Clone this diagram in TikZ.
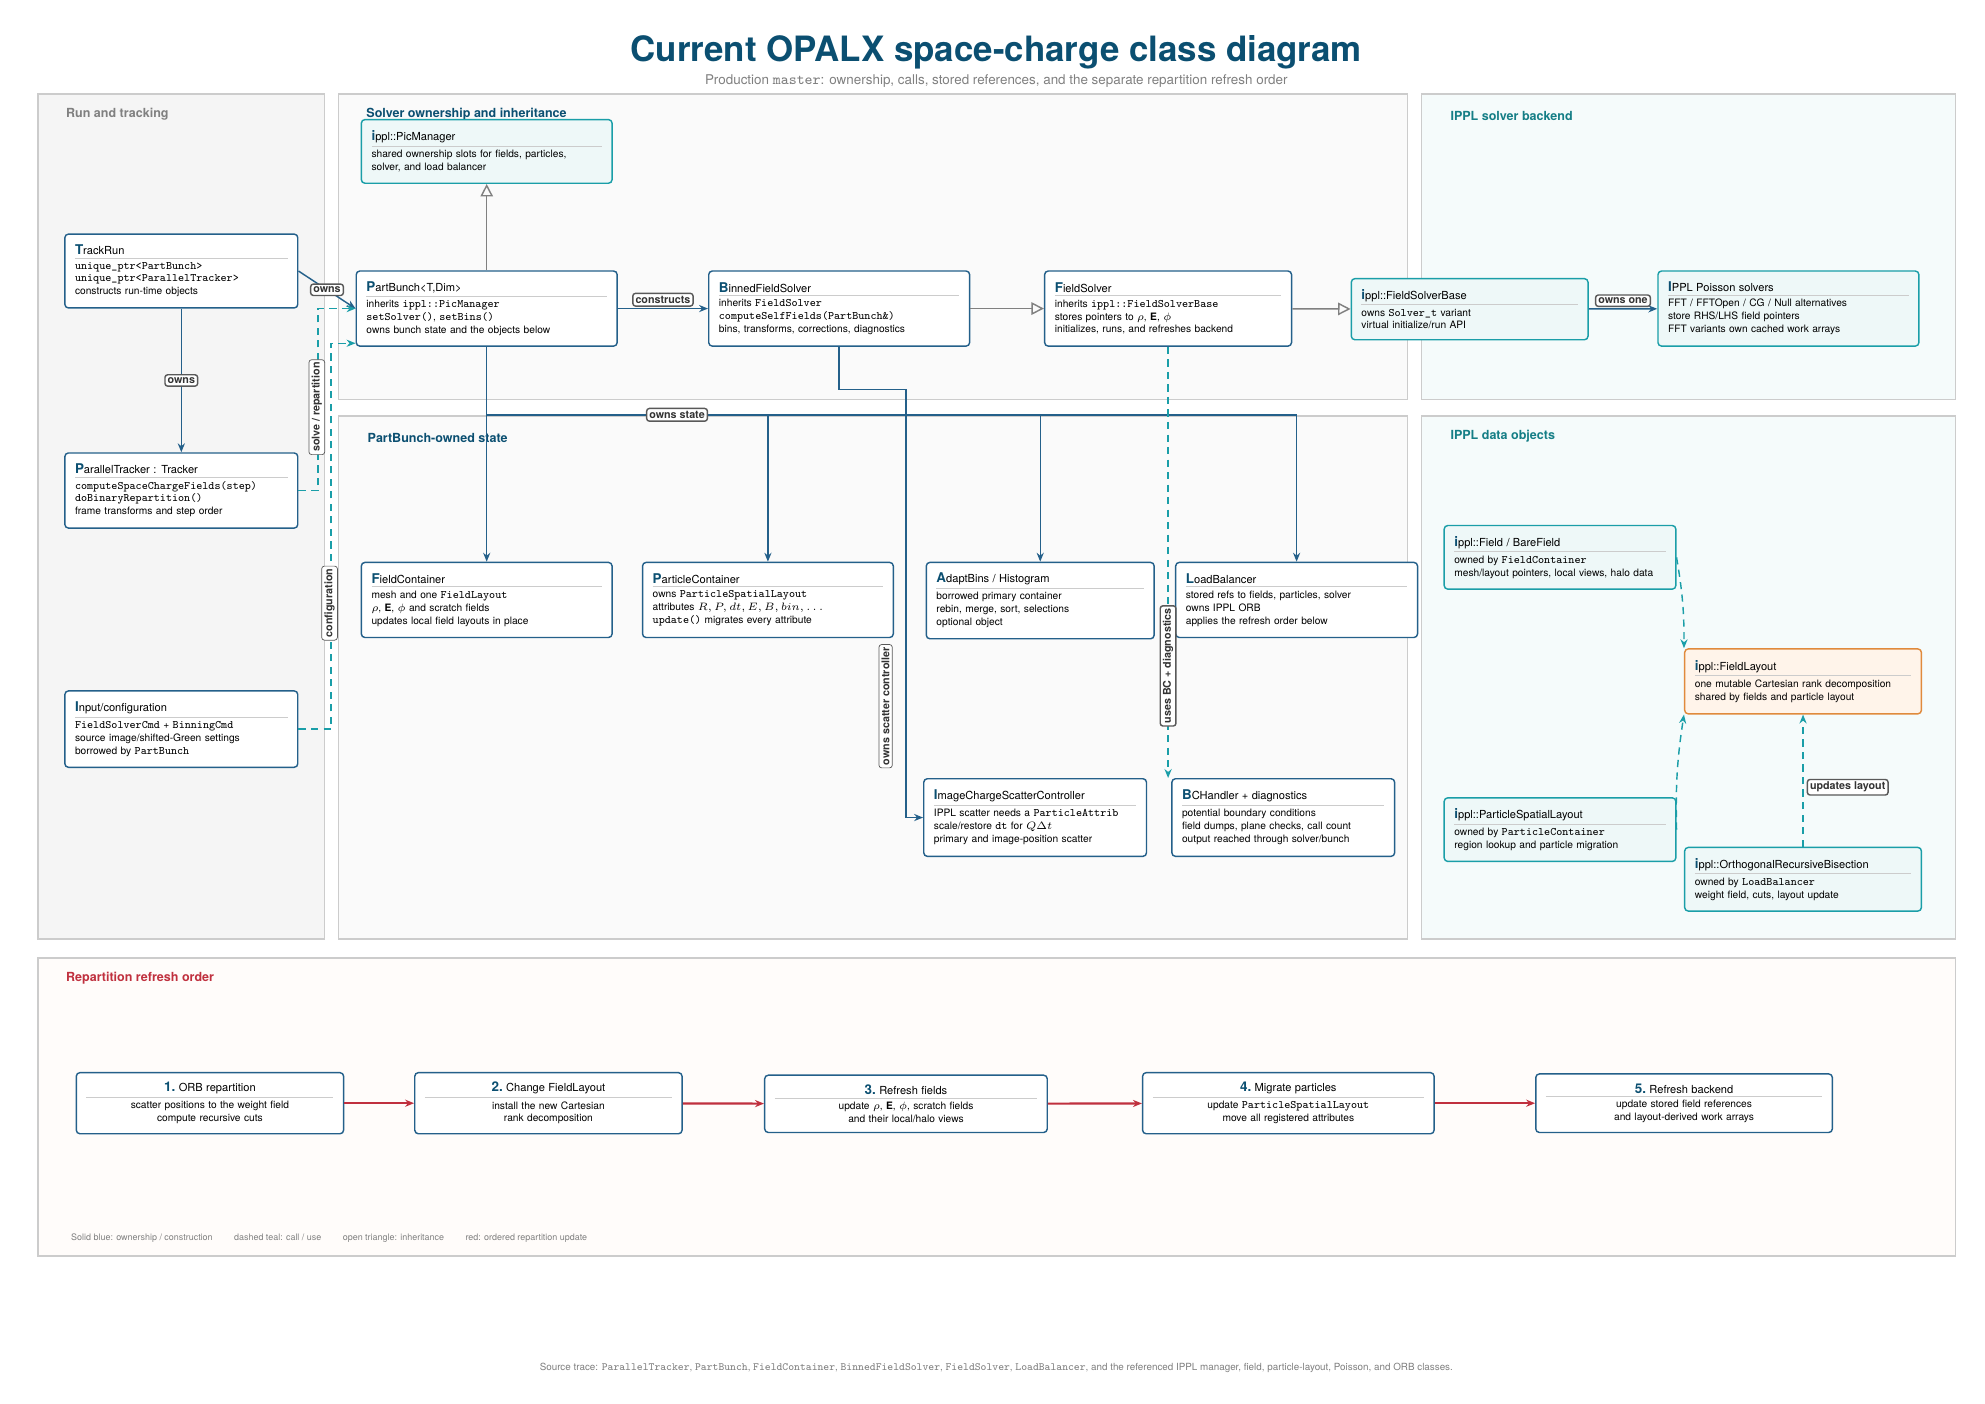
\documentclass[tikz,border=0pt]{standalone}
\usepackage{amsmath}
\usepackage{amssymb}
\usepackage{fontspec}
\setmainfont{TeX Gyre Heros}
\setmonofont{Latin Modern Mono}[Scale=1.12]
\usepackage{tikz}
\usetikzlibrary{arrows.meta,positioning,backgrounds}
\definecolor{hdblue}{HTML}{0B4F71}
\definecolor{ownblue}{HTML}{24608A}
\definecolor{useteal}{HTML}{1A9EA8}
\definecolor{tealfill}{HTML}{EEF8F8}
\definecolor{orangeln}{HTML}{E08A3C}
\definecolor{orangefill}{HTML}{FFF4EA}
\definecolor{stepred}{HTML}{C0303E}
\definecolor{rulegray}{HTML}{CCCCCC}
\definecolor{textgray}{HTML}{808080}
\tikzset{class box/.style={draw=ownblue, thick, fill=white, rounded corners=2pt,
    text width=#1, inner xsep=0.2cm, inner ysep=3pt, align=left,
    font=\fontsize{5.7}{7.2}\selectfont}}
\tikzset{ippl box/.style={class box=#1, draw=useteal, fill=tealfill}}
\tikzset{layout box/.style={class box=#1, draw=orangeln, fill=orangefill}}
\tikzset{step box/.style={class box=#1, align=center}}
\tikzset{own edge/.style={draw=ownblue, thick, -{Stealth[length=5pt,width=4pt]}}}
\tikzset{use edge/.style={draw=useteal, thick, dashed, dash pattern=on 4pt off 3pt, -{Stealth[length=5pt,width=4pt]}}}
\tikzset{inherit edge/.style={draw=gray, thick, -{Triangle[open,length=7pt,width=7pt]}}}
\tikzset{step edge/.style={draw=stepred, very thick, -{Stealth[length=5pt,width=4pt]}}}
\tikzset{tag/.style={draw=gray!70!black, solid, fill=white, rounded corners=1.5pt, inner sep=1.5pt,
    font=\fontsize{6}{7}\selectfont\bfseries, text=black!80}}
\tikzset{panel/.style={draw=rulegray, thick}}
\tikzset{panel title/.style={anchor=west, font=\fontsize{7}{8}\selectfont\bfseries}}
\newcommand{\hd}[2]{{\fontsize{7.5}{8}\selectfont\bfseries\color{hdblue}#1}{\fontsize{6.2}{7}\selectfont #2}\par\vspace{1.5pt}{\color{rulegray}\hrule height 0.5pt}\vspace{2pt}}
\newcommand{\stp}[2]{{\fontsize{7.5}{8}\selectfont\bfseries\color{hdblue}#1.}~{\fontsize{6.2}{7}\selectfont #2}\par\vspace{1.5pt}{\color{rulegray}\hrule height 0.5pt}\vspace{2pt}}

\begin{document}
\begin{tikzpicture}[x=0.025cm, y=-0.025cm]
  \fill[white] (0,0) rectangle (1560,1103);

  % panels
  \filldraw[panel, fill=black!4]       (30,74)   rectangle (255,738);
  \filldraw[panel, fill=blue!2!black!2!white] (266,74)  rectangle (1106,314);
  \filldraw[panel, fill=tealfill!60]   (1117,74) rectangle (1537,314);
  \filldraw[panel, fill=blue!2!black!2!white] (266,327) rectangle (1106,738);
  \filldraw[panel, fill=tealfill!60]   (1117,327) rectangle (1537,738);
  \filldraw[panel, fill=red!2!orange!2!white] (30,753) rectangle (1537,987);

  \node [font=\fontsize{19.5}{22}\selectfont\bfseries, text=hdblue] (title) at (783,41)
    {Current OPALX space-charge class diagram};
  \node [font=\fontsize{7.5}{9}\selectfont, text=textgray] (subtitle) at (783,64)
    {Production \texttt{master}: ownership, calls, stored references, and the separate repartition refresh order};

  \node [panel title, text=textgray] at (47,90)   {Run and tracking};
  \node [panel title, text=hdblue]   at (283,90)  {Solver ownership and inheritance};
  \node [panel title, text=useteal!80!black] at (1135,91) {IPPL solver backend};
  \node [panel title, text=hdblue]   at (284,344) {PartBunch-owned state};
  \node [panel title, text=useteal!80!black] at (1135,343) {IPPL data objects};
  \node [panel title, text=stepred]  at (47,769)  {Repartition refresh order};

  % classes
  \node [ippl box=4.525cm, minimum height=1.25cm]  (picm)        at (382.5,119) {\hd{i}{ppl::PicManager}shared ownership slots for fields, particles,\\solver, and load balancer};
  \node [class box=4.175cm, minimum height=1.45cm] (trackrun)    at (142.5,213) {\hd{T}{rackRun}\texttt{unique\_ptr<PartBunch>}\\\texttt{unique\_ptr<ParallelTracker>}\\constructs run-time objects};
  \node [class box=4.725cm, minimum height=1.475cm] (partbunch)  at (382.5,242.5) {\hd{P}{artBunch<T,Dim>}inherits \texttt{ippl::PicManager}\\\texttt{setSolver()}, \texttt{setBins()}\\owns bunch state and the objects below};
  \node [class box=4.725cm, minimum height=1.475cm] (binned)     at (659.5,242.5) {\hd{B}{innedFieldSolver}inherits \texttt{FieldSolver}\\\texttt{computeSelfFields(PartBunch\&)}\\bins, transforms, corrections, diagnostics};
  \node [class box=4.45cm, minimum height=1.475cm]  (fieldsolver) at (918,242.5) {\hd{F}{ieldSolver}inherits \texttt{ippl::FieldSolverBase}\\stores pointers to $\rho$, $\mathbf{E}$, $\phi$\\initializes, runs, and refreshes backend};
  \node [ippl box=4.25cm, minimum height=1.2cm]     (fsbase)      at (1155,243) {\hd{i}{ppl::FieldSolverBase}owns \texttt{Solver\_t} variant\\virtual initialize/run API};
  \node [ippl box=4.725cm, minimum height=1.475cm]  (poisson)     at (1405.5,242.5) {\hd{I}{PPL Poisson solvers}FFT / FFTOpen / CG / Null alternatives\\store RHS/LHS field pointers\\FFT variants own cached work arrays};
  \node [class box=4.175cm, minimum height=1.475cm] (ptracker)    at (142.5,385.5) {\hd{P}{arallelTracker : Tracker}\texttt{computeSpaceChargeFields(step)}\\\texttt{doBinaryRepartition()}\\frame transforms and step order};
  \node [class box=4.175cm, minimum height=1.5cm]   (input)       at (142.5,573) {\hd{I}{nput/configuration}\texttt{FieldSolverCmd} + \texttt{BinningCmd}\\source image/shifted-Green settings\\borrowed by \texttt{PartBunch}};
  \node [class box=4.525cm, minimum height=1.475cm] (fieldcont)   at (382.5,471.5) {\hd{F}{ieldContainer}mesh and one \texttt{FieldLayout}\\$\rho$, $\mathbf{E}$, $\phi$ and scratch fields\\updates local field layouts in place};
  \node [class box=4.525cm, minimum height=1.475cm] (partcont)    at (603.5,471.5) {\hd{P}{articleContainer}owns \texttt{ParticleSpatialLayout}\\attributes $R, P, dt, E, B, bin, \ldots$\\\texttt{update()} migrates every attribute};
  \node [class box=4.075cm, minimum height=1.5cm]   (adapt)       at (817.5,472) {\hd{A}{daptBins / Histogram}borrowed primary container\\rebin, merge, sort, selections\\optional object};
  \node [class box=4.35cm, minimum height=1.475cm]  (lb)          at (1019,471.5) {\hd{L}{oadBalancer}stored refs to fields, particles, solver\\owns IPPL ORB\\applies the refresh order below};
  \node [class box=3.975cm, minimum height=1.525cm] (icsc)        at (813.5,642.5) {\hd{I}{mageChargeScatterController}IPPL scatter needs a \texttt{ParticleAttrib}\\scale/restore \texttt{dt} for $Q\Delta t$\\primary and image-position scatter};
  \node [class box=3.975cm, minimum height=1.525cm] (bch)         at (1008.5,642.5) {\hd{B}{CHandler + diagnostics}potential boundary conditions\\field dumps, plane checks, call count\\output reached through solver/bunch};
  \node [ippl box=4.15cm, minimum height=1.25cm]    (field)       at (1226,438) {\hd{i}{ppl::Field / BareField}owned by \texttt{FieldContainer}\\mesh/layout pointers, local views, halo data};
  \node [layout box=4.25cm, minimum height=1.275cm] (flayout)     at (1417,535.5) {\hd{i}{ppl::FieldLayout}one mutable Cartesian rank decomposition\\shared by fields and particle layout};
  \node [ippl box=4.15cm, minimum height=1.25cm]    (psl)         at (1226,652) {\hd{i}{ppl::ParticleSpatialLayout}owned by \texttt{ParticleContainer}\\region lookup and particle migration};
  \node [ippl box=4.25cm, minimum height=1.25cm]    (orb)         at (1417,691) {\hd{i}{ppl::OrthogonalRecursiveBisection}owned by \texttt{LoadBalancer}\\weight field, cuts, layout update};

  % refresh steps
  \node [step box=4.85cm, minimum height=1.2cm]    (s1) at (165,867)    {\stp{1}{ORB repartition}scatter positions to the weight field\\compute recursive cuts};
  \node [step box=4.85cm, minimum height=1.2cm]    (s2) at (431,867)    {\stp{2}{Change FieldLayout}install the new Cartesian\\rank decomposition};
  \node [step box=5.15cm, minimum height=1.125cm]  (s3) at (712,867.5)  {\stp{3}{Refresh fields}update $\rho$, $\mathbf{E}$, $\phi$, scratch fields\\and their local/halo views};
  \node [step box=5.325cm, minimum height=1.2cm]   (s4) at (1012.5,867) {\stp{4}{Migrate particles}update \texttt{ParticleSpatialLayout}\\move all registered attributes};
  \node [step box=5.425cm, minimum height=1.15cm]  (s5) at (1323.5,867) {\stp{5}{Refresh backend}update stored field references\\and layout-derived work arrays};

  \coordinate (bus)         at (382.5,326);
  \coordinate (scatterbend) at (712,306);
  \coordinate (solvex)      at (250,0);
  \coordinate (configx)     at (260,0);

  % ownership and construction
  \draw [own edge] (trackrun.east) -- (partbunch.west) node [tag, midway] {owns};
  \draw [own edge] (trackrun) -- (ptracker) node [tag, midway] {owns};
  \draw [own edge] (partbunch) -- (binned) node [tag, midway, above=1pt] {constructs};
  \draw [own edge] (fsbase) -- (poisson) node [tag, midway, above=1pt] {owns one};
  \draw [own edge] (partbunch.south) -- (fieldcont.north);
  \draw [own edge, -] (bus) -- (lb.north |- bus) node [tag, pos=0.235] {owns state};
  \draw [own edge] (partcont.north |- bus) -- (partcont.north);
  \draw [own edge] (adapt.north |- bus) -- (adapt.north);
  \draw [own edge] (lb.north |- bus) -- (lb.north);
  \draw [own edge] (binned.south) |- (scatterbend) |- (icsc.west);
  \node [tag, rotate=90] (scattertag) at (696,555) {owns scatter controller};

  % inheritance
  \draw [inherit edge] (partbunch.north) -- (picm.south);
  \draw [inherit edge] (binned) -- (fieldsolver);
  \draw [inherit edge] (fieldsolver) -- (fsbase);

  % calls and uses
  \draw [use edge] (ptracker.east) -- (ptracker.east -| solvex) |- (partbunch.west);
  \node [tag, rotate=90] (solvetag) at (249,320) {solve / repartition};
  \draw [use edge] (input.east) -- (input.east -| configx) |- ([yshift=2pt]partbunch.south west);
  \node [tag, rotate=90] (configtag) at (259,474) {configuration};
  \draw [use edge] (fieldsolver.south) -- (fieldsolver.south |- bch.north) node [tag, rotate=90, pos=0.74] {uses BC + diagnostics};
  \draw [use edge] (field.east) to [bend left=5] (flayout.north west);
  \draw [use edge] (psl.east) to [bend left=5] (flayout.south west);
  \draw [use edge] (orb.north -| flayout.south) -- (flayout.south) node [tag, pos=0.45, right=2pt] {updates layout};

  % refresh order
  \draw [step edge] (s1) -- (s2);
  \draw [step edge] (s2) -- (s3);
  \draw [step edge] (s3) -- (s4);
  \draw [step edge] (s4) -- (s5);

  \node [anchor=west, font=\fontsize{5}{6}\selectfont, text=textgray] (legend) at (51,973)
    {Solid blue: ownership / construction\hspace{12pt}dashed teal: call / use\hspace{12pt}open triangle: inheritance\hspace{12pt}red: ordered repartition update};
  \node [font=\fontsize{5.5}{7}\selectfont, text=textgray] (trace) at (783,1075)
    {Source trace: \texttt{ParallelTracker}, \texttt{PartBunch}, \texttt{FieldContainer}, \texttt{BinnedFieldSolver}, \texttt{FieldSolver}, \texttt{LoadBalancer}, and the referenced IPPL manager, field, particle-layout, Poisson, and ORB classes.};
\end{tikzpicture}
\end{document}
